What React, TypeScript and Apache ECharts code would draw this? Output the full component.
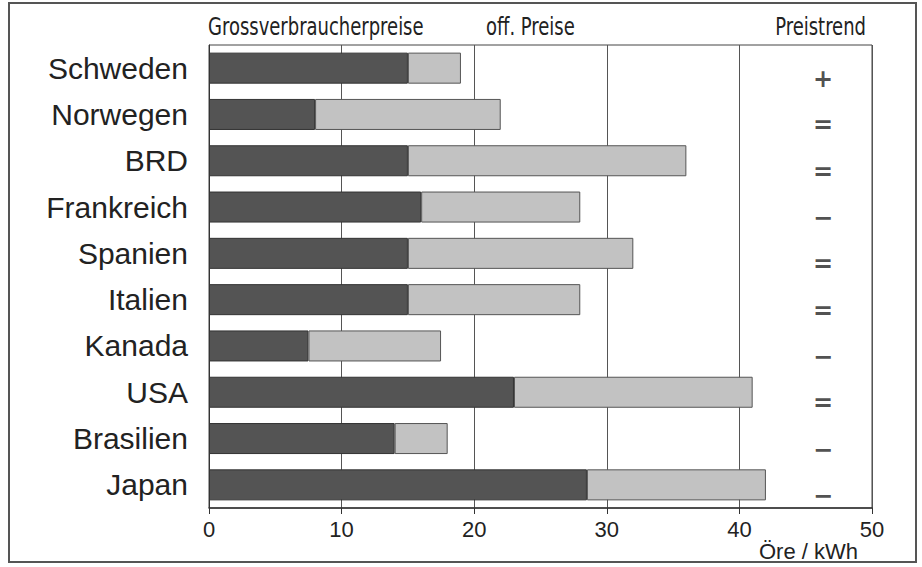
import React, { useEffect, useRef } from "react";
import * as echarts from "echarts";

const categories = ["Schweden", "Norwegen", "BRD", "Frankreich", "Spanien", "Italien", "Kanada", "USA", "Brasilien", "Japan"];
const grossPrices = [15, 8, 15, 16, 15, 15, 7.5, 23, 14, 28.5];
const officialPrices = [19, 22, 36, 28, 32, 28, 17.5, 41, 18, 42];
const trends = ["+", "=", "=", "−", "=", "=", "−", "=", "−", "−"];
const trendX = 46.3;
const xTicks = { min: 0, max: 50, interval: 10 };

const SANS = "'Liberation Sans', Arial, Helvetica, sans-serif";
const NARROW = "'Liberation Sans Narrow', 'DejaVu Sans Condensed', 'Liberation Sans', sans-serif";

export default function App() {
  const ref = useRef<HTMLDivElement>(null);
  useEffect(() => {
    if (!ref.current) return;
    const chart = echarts.init(ref.current, null, { renderer: "svg" });
    const diff = officialPrices.map((v, i) => +(v - grossPrices[i]).toFixed(2));
    const header = (text: string, x: number, align: string) => ({
      type: "text",
      x,
      y: 38,
      scaleY: 1.2,
      style: { text, font: `20px ${NARROW}`, fill: "#222", textAlign: align, textVerticalAlign: "bottom" },
    });
    chart.setOption({
      animation: false,
      backgroundColor: "#ffffff",
      grid: { left: 209, right: 50, top: 45, bottom: 59, show: true, borderColor: "#444", borderWidth: 1, backgroundColor: "transparent" },
      xAxis: {
        type: "value",
        min: xTicks.min,
        max: xTicks.max,
        interval: xTicks.interval,
        axisLine: { show: true, lineStyle: { color: "#333", width: 1.5 } },
        axisTick: { show: true, length: 6, lineStyle: { color: "#333" } },
        axisLabel: { fontSize: 22, color: "#222", fontFamily: SANS, margin: 10 },
        splitLine: { show: true, lineStyle: { color: "#555", width: 1 } },
      },
      yAxis: {
        type: "category",
        data: categories,
        inverse: true,
        axisLine: { show: true, lineStyle: { color: "#333" } },
        axisTick: { show: false },
        axisLabel: { fontSize: 30, color: "#222", fontFamily: SANS, margin: 21 },
        splitLine: { show: false },
      },
      series: [
        {
          name: "Grossverbraucherpreise",
          type: "bar",
          stack: "p",
          data: grossPrices,
          barWidth: "67%",
          itemStyle: { color: "#545454", borderColor: "#333", borderWidth: 1 },
        },
        {
          name: "off. Preise",
          type: "bar",
          stack: "p",
          data: diff,
          barWidth: "67%",
          itemStyle: { color: "#c2c2c2", borderColor: "#555", borderWidth: 1 },
        },
        {
          name: "Preistrend",
          type: "scatter",
          data: trends.map((t, i) => [trendX, i]),
          symbolSize: 1,
          itemStyle: { color: "transparent" },
          label: {
            show: true,
            position: "inside",
            offset: [0, 11],
            formatter: (p: any) => trends[p.dataIndex],
            fontSize: 24,
            fontWeight: "bold",
            color: "#222",
            fontFamily: "'DejaVu Sans', sans-serif",
          },
          silent: true,
        },
      ],
      graphic: [
        { type: "rect", shape: { x: 9, y: 3, width: 907, height: 559 }, style: { fill: "none", stroke: "#555", lineWidth: 2 } },
        header("Grossverbraucherpreise", 208, "left"),
        header("off. Preise", 486, "left"),
        header("Preistrend", 866, "right"),
        { type: "text", x: 858, y: 562, style: { text: "Öre / kWh", font: `22px ${SANS}`, fill: "#222", textAlign: "right", textVerticalAlign: "bottom" } },
      ],
    });
    return () => chart.dispose();
  }, []);
  return <div ref={ref} style={{ position: "absolute", left: 0, top: 0, width: 922, height: 567 }} />;
}
